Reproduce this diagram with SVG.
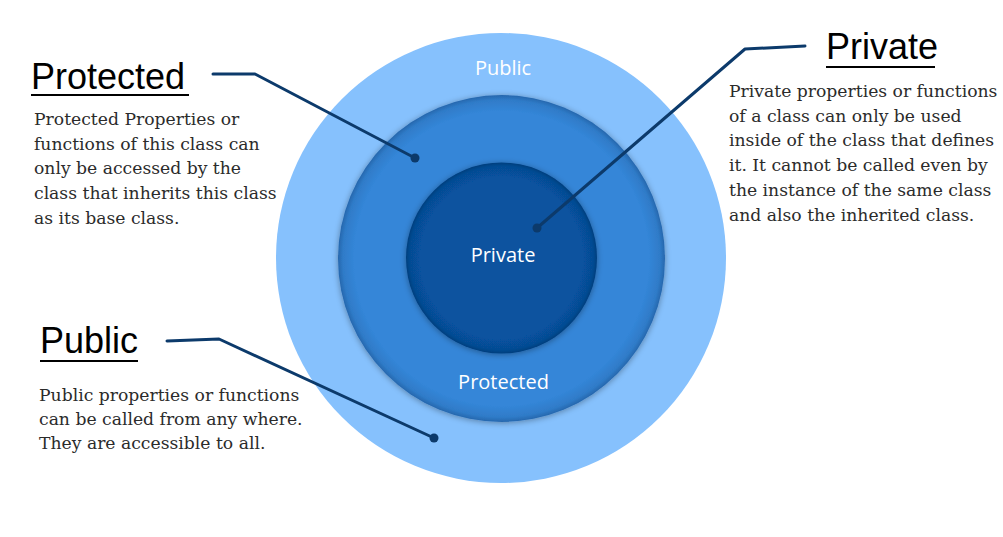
<svg xmlns="http://www.w3.org/2000/svg" width="1003" height="537" viewBox="0 0 1003 537">
<style>
.title{font-family:"Liberation Sans",Arial,sans-serif;font-size:36px;fill:#000}
.ul{stroke:#000;stroke-width:2}
.body{font-family:"DejaVu Serif",serif;font-size:17.2px;fill:#2b2b2b}
.ring{font-family:"Open Sans","Noto Sans",sans-serif;font-size:20px;fill:#fff;text-anchor:middle}
.conn{fill:none;stroke:#0c3a6b;stroke-width:3;stroke-linejoin:round;stroke-linecap:round}
.dot{fill:#0c3a6b}
</style>
<defs>
<radialGradient id="gMid" cx="0.5" cy="0.5" r="0.5">
<stop offset="0.9" stop-color="#3486d8"/>
<stop offset="0.97" stop-color="#2f7bc8"/>
<stop offset="1" stop-color="#2667ad"/>
</radialGradient>
<radialGradient id="gIn" cx="0.5" cy="0.5" r="0.5">
<stop offset="0.85" stop-color="#07529f"/>
<stop offset="0.96" stop-color="#064b93"/>
<stop offset="1" stop-color="#053f7e"/>
</radialGradient>
<filter id="sh" x="-10%" y="-10%" width="120%" height="120%">
<feGaussianBlur in="SourceAlpha" stdDeviation="3"/>
<feOffset dx="0" dy="1"/>
<feComponentTransfer><feFuncA type="linear" slope="0.35"/></feComponentTransfer>
<feMerge><feMergeNode/><feMergeNode in="SourceGraphic"/></feMerge>
</filter>
</defs>
<rect width="1003" height="537" fill="#fff"/>
<g id="public-circle">
<circle cx="501" cy="258" r="225" fill="#86c1fd"/>
<text class="ring" x="503" y="75">Public</text>
</g>
<g id="protected-circle">
<circle cx="501.5" cy="258.5" r="163.5" fill="url(#gMid)" filter="url(#sh)"/>
<text class="ring" x="503.5" y="389">Protected</text>
</g>
<g id="private-circle">
<circle cx="501.5" cy="258" r="95.5" fill="url(#gIn)" filter="url(#sh)"/>
<text class="ring" x="503" y="262">Private</text>
</g>
<g id="connectors">
<polyline class="conn" points="213,74 255,74 415,158"/>
<circle class="dot" cx="415" cy="158" r="4.5"/>
<polyline class="conn" points="805,46 745,49 537,228"/>
<circle class="dot" cx="537" cy="228" r="4.5"/>
<polyline class="conn" points="167,341 219,339 434,438"/>
<circle class="dot" cx="434" cy="438" r="4.5"/>
</g>
<g id="protected-note">
<text class="title" x="31" y="89">Protected</text>
<line class="ul" x1="31" y1="95" x2="189" y2="95"/>
<text class="body" x="34" y="125">Protected Properties or</text>
<text class="body" x="34" y="150">functions of this class can</text>
<text class="body" x="34" y="174">only be accessed by the</text>
<text class="body" x="34" y="199">class that inherits this class</text>
<text class="body" x="34" y="224">as its base class.</text>
</g>
<g id="private-note">
<text class="title" x="826" y="59">Private</text>
<line class="ul" x1="826" y1="67" x2="935" y2="67"/>
<text class="body" x="729" y="97">Private properties or functions</text>
<text class="body" x="729" y="122">of a class can only be used</text>
<text class="body" x="729" y="146">inside of the class that defines</text>
<text class="body" x="729" y="171">it. It cannot be called even by</text>
<text class="body" x="729" y="196">the instance of the same class</text>
<text class="body" x="729" y="221">and also the inherited class.</text>
</g>
<g id="public-note">
<text class="title" x="40" y="353">Public</text>
<line class="ul" x1="40" y1="361" x2="138" y2="361"/>
<text class="body" x="39" y="401">Public properties or functions</text>
<text class="body" x="39" y="425">can be called from any where.</text>
<text class="body" x="39" y="449">They are accessible to all.</text>
</g>
</svg>
